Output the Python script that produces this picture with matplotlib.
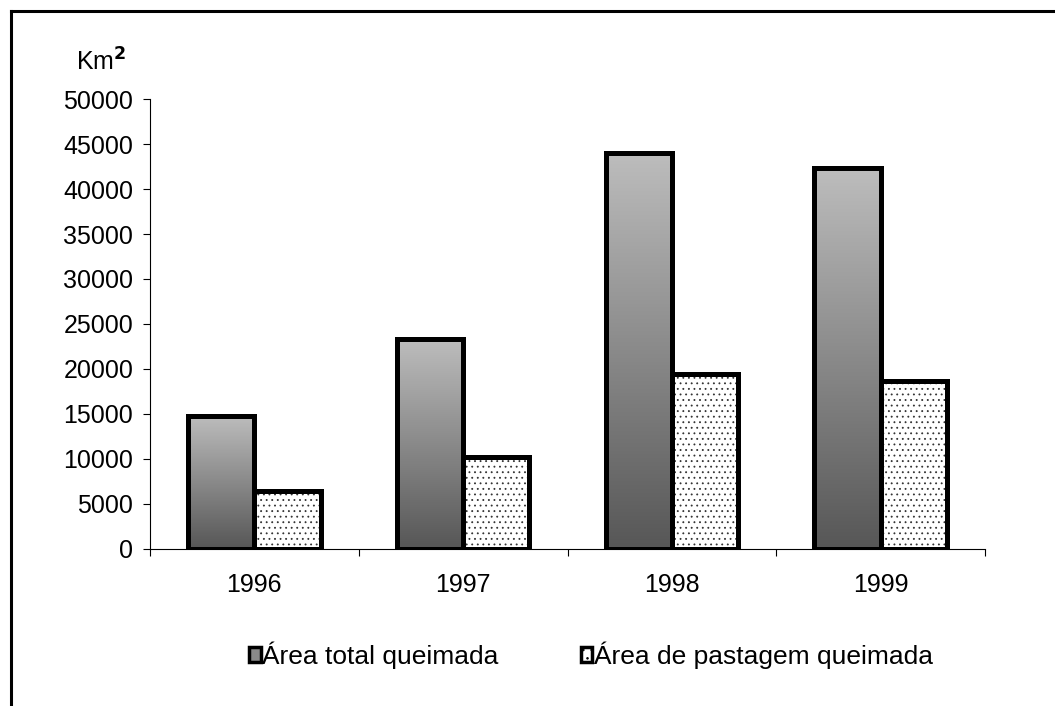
import numpy as np
import matplotlib
matplotlib.use("Agg")
import matplotlib.pyplot as plt
from matplotlib.patches import Patch
from matplotlib.lines import Line2D

plt.rcParams['font.family'] = ['Liberation Sans', 'DejaVu Sans']
plt.rcParams['hatch.linewidth'] = 0.6

years = ["1996", "1997", "1998", "1999"]
total_area = [14700, 23300, 44000, 42300]
pasture_area = [6450, 10200, 19400, 18600]
series_labels = ["Área total queimada", "Área de pastagem queimada"]
yticks = [0, 5000, 10000, 15000, 20000, 25000, 30000, 35000, 40000, 45000, 50000]

FS = 18
W, H = 1055, 706
fig = plt.figure(figsize=(W / 100, H / 100), dpi=100)
ax = fig.add_axes([150 / W, (H - 548.5) / H, (985 - 150) / W, (548.5 - 99.3) / H])

x = np.arange(len(years))
bw = 0.317
grad = np.linspace(0, 1, 256).reshape(-1, 1)
cmap = matplotlib.colors.LinearSegmentedColormap.from_list("g", ["#bdbdbd", "#575757"])

for xi, v in zip(x, total_area):
    bars = ax.bar(xi - bw / 2, v, width=bw, facecolor="none", edgecolor="none", zorder=2)
    rect = bars[0]
    im = ax.imshow(grad, extent=[xi - bw, xi, 0, v], origin="upper", cmap=cmap,
                   aspect="auto", zorder=2)
    im.set_clip_path(rect)
    ax.bar(xi - bw / 2, v, width=bw, facecolor="none", edgecolor="black", linewidth=3.6, zorder=4)

ax.bar(x + bw / 2, pasture_area, width=bw, facecolor="white", edgecolor="#333333",
       hatch="...", linewidth=0, zorder=2)
ax.bar(x + bw / 2, pasture_area, width=bw, facecolor="none", edgecolor="black",
       linewidth=3.6, zorder=4)

ax.set_xlim(-0.5, len(years) - 0.5)
ax.set_ylim(0, 50000)
ax.set_yticks(yticks)
ax.set_yticklabels([str(t) for t in yticks], fontsize=FS)
ax.set_xticks(x)
ax.set_xticklabels(years, fontsize=FS)
ax.set_xticks(np.arange(len(years) + 1) - 0.5, minor=True)
ax.tick_params(axis="x", which="major", length=0, pad=17.5)
ax.tick_params(axis="x", which="minor", length=5, width=0.8, direction="out")
ax.tick_params(axis="y", length=5, width=0.8, direction="out", pad=7)
for s in ["top", "right"]:
    ax.spines[s].set_visible(False)
for s in ["left", "bottom"]:
    ax.spines[s].set_linewidth(0.8)

fig.text(101 / W, 1 - 62 / H, "Km$^{\\mathbf{2}}$", fontsize=FS, ha="center", va="center")

handles = [Patch(facecolor="#8a8a8a", edgecolor="black", linewidth=2.5),
           Patch(facecolor="white", edgecolor="black", linewidth=2.5, hatch="..")]
leg = fig.legend(handles, series_labels, loc="center", bbox_to_anchor=(591 / W, 1 - 655 / H),
                 ncol=2, frameon=False, fontsize=19, handlelength=0.45, handleheight=0.5,
                 handletextpad=0.05, columnspacing=3.1)

# outer frame (left and top)
fig.add_artist(Line2D([11 / W, 11 / W], [0, 1 - 11 / H], color="black", linewidth=2.2,
                      transform=fig.transFigure))
fig.add_artist(Line2D([11 / W, 1], [1 - 11 / H, 1 - 11 / H], color="black", linewidth=2.2,
                      transform=fig.transFigure))

fig.savefig("out.png", dpi=100, facecolor="white")
